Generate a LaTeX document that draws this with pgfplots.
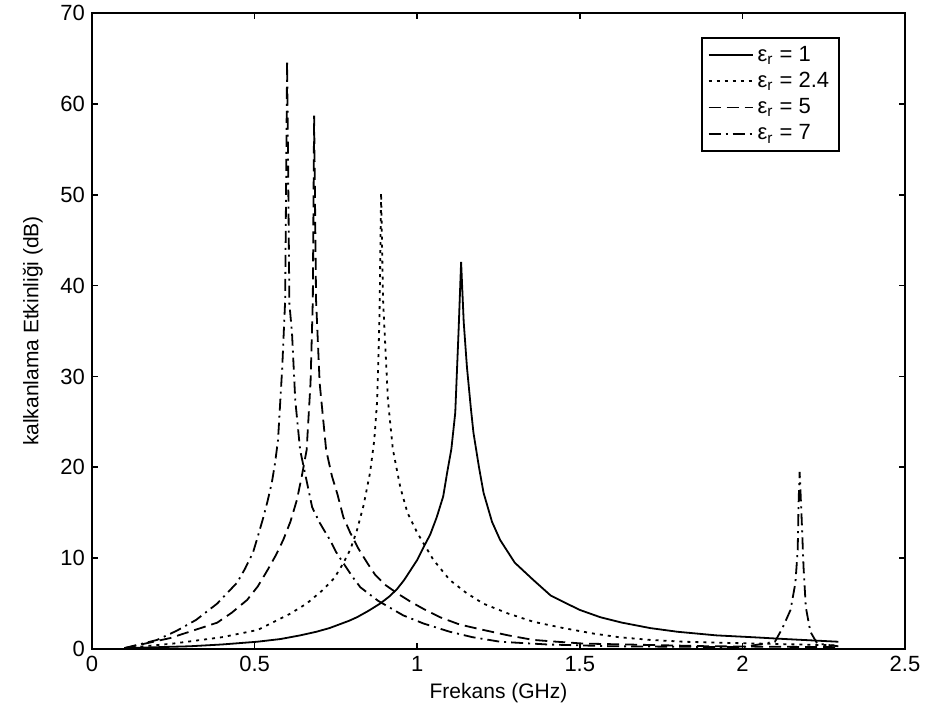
\documentclass[border=0pt]{standalone}
\usepackage{fontspec}
\setmainfont{Liberation Sans}
\usepackage{pgfplots}
\pgfplotsset{compat=1.18}

\pgfplotstableread{
x y
0.10 0.1
0.20 0.2
0.30 0.3
0.40 0.5
0.508 0.8
0.58 1.1
0.64 1.5
0.69 1.9
0.73 2.3
0.76 2.7
0.79 3.1
0.815 3.5
0.85 4.2
0.886 5.0
0.915 5.8
0.938 6.6
0.96 7.6
0.98 8.7
1.00 9.8
1.018 11.1
1.04 12.6
1.06 14.5
1.08 16.8
1.092 19.4
1.105 22.0
1.117 26.0
1.127 34.8
1.135 42.6
1.143 36.0
1.153 31.0
1.165 26.5
1.173 23.8
1.19 20.0
1.204 17.2
1.23 14.0
1.255 12.0
1.30 9.5
1.33 8.5
1.357 7.6
1.41 5.9
1.46 5.0
1.50 4.3
1.563 3.5
1.63 2.9
1.717 2.3
1.80 1.9
1.92 1.5
2.03 1.3
2.13 1.1
2.295 0.8
}\erone

\pgfplotstableread{
x y
0.10 0.1
0.25 0.6
0.40 1.3
0.51 2.1
0.61 3.9
0.66 5.0
0.71 6.5
0.745 7.8
0.772 9.4
0.795 11.0
0.815 13.1
0.835 15.8
0.855 19.4
0.868 23.0
0.877 27.4
0.884 36.5
0.889 50.2
0.895 38.4
0.91 27.4
0.925 22.0
0.948 17.8
0.97 15.0
1.00 12.8
1.05 9.8
1.10 7.6
1.15 6.2
1.203 5.0
1.28 3.9
1.357 3.0
1.41 2.6
1.45 2.3
1.542 1.7
1.62 1.3
1.717 1.0
1.82 0.8
1.92 0.7
2.295 0.4
}\ertwo

\pgfplotstableread{
x y
0.10 0.1
0.24 1.2
0.385 2.9
0.43 4.0
0.477 5.4
0.51 6.9
0.54 8.7
0.565 10.3
0.588 12.0
0.61 14.0
0.63 16.4
0.645 19.0
0.66 21.9
0.672 29.3
0.679 38.4
0.683 58.7
0.689 38.4
0.70 29.3
0.72 21.9
0.738 19.0
0.755 17.0
0.773 14.5
0.794 12.8
0.82 11.0
0.846 9.5
0.87 8.2
0.90 7.1
0.94 6.1
0.98 5.2
1.02 4.4
1.07 3.5
1.13 2.7
1.203 2.1
1.28 1.5
1.357 1.0
1.43 0.8
1.51 0.6
1.90 0.3
2.295 0.2
}\erfive

\pgfplotstableread{
x y
0.10 0.1
0.20 1.0
0.26 2.0
0.32 3.2
0.385 5.0
0.446 7.3
0.47 8.8
0.495 10.6
0.51 12.4
0.527 14.5
0.54 16.3
0.553 18.3
0.563 20.5
0.572 23.0
0.585 31.0
0.594 38.4
0.600 64.8
0.607 38.0
0.615 34.8
0.625 27.4
0.64 21.9
0.66 18.5
0.677 15.6
0.70 13.9
0.715 13.0
0.732 12.0
0.75 10.7
0.772 9.5
0.80 8.0
0.825 6.8
0.88 5.3
0.957 3.7
1.02 2.8
1.10 1.9
1.17 1.3
1.255 0.8
1.40 0.5
1.60 0.3
2.00 0.2
2.10 0.8
2.123 2.3
2.148 4.3
2.163 7.3
2.170 10.9
2.173 16.4
2.176 19.5
2.182 14.5
2.188 9.0
2.195 4.6
2.209 1.9
2.23 0.6
2.295 0.3
}\erseven

\begin{document}
\begin{tikzpicture}
\begin{axis}[
  scale only axis,
  width=406.5pt, height=318pt,
  xmin=0, xmax=2.5, ymin=0, ymax=70,
  xtick={0,0.5,1,1.5,2,2.5},
  xticklabels={0,0.5,1,1.5,2,2.5},
  ytick={0,10,20,30,40,50,60,70},
  tick align=inside,
  major tick length=3pt,
  axis line style={line width=0.8pt},
  every tick/.style={black, line width=0.8pt},
  /pgf/number format/assume math mode=true,
  ticklabel style={font=\fontsize{11}{12}\selectfont},
  label style={font=\fontsize{10.5}{12}\selectfont},
  xlabel={Frekans (GHz)},
  ylabel={kalkanlama Etkinliği (dB)},
  xlabel style={yshift=1pt},
  ylabel style={yshift=2pt},
  legend cell align=left,
  legend style={at={(0.92,0.962)}, anchor=north east, draw=black, line width=0.8pt,
    font=\fontsize{11}{11.5}\selectfont, row sep=0pt, inner xsep=3pt, inner ysep=2pt},
  legend image code/.code={\draw[#1] (0pt,0pt) -- (22pt,0pt);},
]
\addplot[black, line width=0.9pt] table {\erone};
\addlegendentry{ε\textsubscript{r} = 1}
\addplot[black, line width=0.9pt, dash pattern=on 1.5pt off 2.5pt] table {\ertwo};
\addlegendentry{ε\textsubscript{r} = 2.4}
\addplot[black, line width=0.9pt, dash pattern=on 6pt off 3pt] table {\erfive};
\addlegendentry{ε\textsubscript{r} = 5}
\addplot[black, line width=0.9pt, dash pattern=on 6pt off 2.5pt on 1pt off 2.5pt] table {\erseven};
\addlegendentry{ε\textsubscript{r} = 7}
\end{axis}
\pgfresetboundingbox
\path ([shift={(-46pt,-37pt)}]current axis.south west) rectangle ([shift={(11.5pt,6.5pt)}]current axis.north east);
\end{tikzpicture}
\end{document}
